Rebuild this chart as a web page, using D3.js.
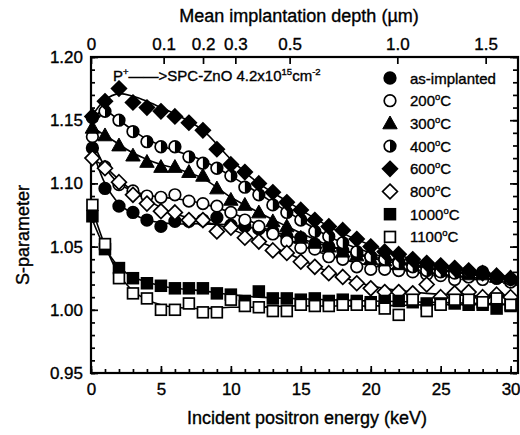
<!DOCTYPE html>
<html>
<head>
<meta charset="utf-8">
<script src="https://cdn.jsdelivr.net/npm/d3@7"></script>
<style>
  body { margin: 0; background: #fff; }
  svg { display: block; font-family: "Liberation Sans", Arial, Helvetica, sans-serif; }
  svg text { stroke: #000; stroke-width: 0.35px; fill: #000; }
</style>
</head>
<body>
<svg id="chart" width="520" height="435"></svg>
<script>
// incident positron energy (keV) of every measured point
const energy = [0.1, 1, 2, 3, 4, 5, 6, 7, 8, 9, 10, 11, 12, 13, 14, 15,
  16, 17, 18, 19, 20, 21, 22, 23, 24, 25, 26, 27, 28, 29, 30];

// measured S-parameter, one array per anneal state
const sAsImplanted = [1.128, 1.096, 1.082, 1.077, 1.071, 1.066, 1.070, 1.070, 1.071, 1.073, 1.067,
  1.066, 1.064, 1.062, 1.058, 1.057, 1.052, 1.050, 1.047, 1.044, 1.042,
  1.040, 1.038, 1.036, 1.034, 1.031, 1.030, 1.029, 1.027, 1.025, 1.023];
const s200 = [1.137, 1.113, 1.099, 1.094, 1.090, 1.089, 1.091, 1.086, 1.084, 1.082, 1.077,
  1.071, 1.066, 1.060, 1.054, 1.049, 1.048, 1.042, 1.040, 1.034, 1.032,
  1.032, 1.031, 1.030, 1.028, 1.027, 1.024, 1.026, 1.024, 1.025, 1.022];
const s300 = [1.144, 1.138, 1.130, 1.122, 1.117, 1.113, 1.113, 1.109, 1.106, 1.096, 1.087,
  1.083, 1.077, 1.070, 1.066, 1.057, 1.053, 1.050, 1.046, 1.043, 1.040,
  1.039, 1.036, 1.035, 1.033, 1.031, 1.030, 1.028, 1.028, 1.026, 1.025];
const s400 = [1.152, 1.157, 1.150, 1.141, 1.133, 1.129, 1.129, 1.121, 1.116, 1.112, 1.106,
  1.097, 1.091, 1.083, 1.077, 1.071, 1.062, 1.058, 1.053, 1.046, 1.042,
  1.040, 1.037, 1.034, 1.031, 1.030, 1.029, 1.030, 1.030, 1.026, 1.024];
const s600 = [1.153, 1.165, 1.175, 1.164, 1.160, 1.157, 1.153, 1.148, 1.142, 1.127, 1.115,
  1.109, 1.100, 1.093, 1.085, 1.079, 1.071, 1.066, 1.063, 1.056, 1.050,
  1.046, 1.044, 1.040, 1.037, 1.035, 1.033, 1.031, 1.029, 1.027, 1.025];
const s800 = [1.120, 1.112, 1.101, 1.091, 1.084, 1.078, 1.077, 1.071, 1.071, 1.062, 1.065,
  1.057, 1.054, 1.047, 1.045, 1.038, 1.034, 1.029, 1.026, 1.021, 1.017,
  1.014, 1.014, 1.013, 1.020, 1.010, 1.013, 1.014, 1.010, 1.012, 1.010];
const s1000 = [1.074, 1.048, 1.033, 1.025, 1.021, 1.019, 1.017, 1.017, 1.017, 1.013, 1.012,
  1.007, 1.0145, 1.009, 1.009, 1.008, 1.009, 1.007, 1.008, 1.007, 1.006,
  1.007, 1.007, 1.006, 1.005, 1.005, 1.005, 1.004, 1.004, 1.001, 1.003];
const s1100 = [1.083, 1.052, 1.025, 1.013, 1.009, 1.000, 1.000, 1.005, 0.998, 0.998, 1.008,
  1.003, 1.002, 0.999, 0.999, 1.004, 1.003, 1.003, 1.004, 1.004, 1.004,
  1.001, 0.996, 1.008, 0.999, 1.004, 1.008, 1.008, 1.006, 1.009, 1.004];

// fitted curves
const fitEnergy = [0, 1, 2, 3, 4, 5, 6, 8, 10, 12, 14, 17, 20, 24, 28, 30.6];
const fitAsImplanted = [1.130, 1.100, 1.084, 1.076, 1.071, 1.069, 1.068, 1.068, 1.067, 1.064, 1.059, 1.050, 1.042, 1.034, 1.027, 1.024];
const fit200 = [1.137, 1.113, 1.100, 1.094, 1.091, 1.089, 1.088, 1.084, 1.077, 1.067, 1.056, 1.043, 1.035, 1.029, 1.025, 1.023];
const fit300 = [1.145, 1.138, 1.131, 1.124, 1.119, 1.115, 1.112, 1.104, 1.089, 1.077, 1.066, 1.051, 1.041, 1.033, 1.027, 1.025];
const fit400 = [1.152, 1.157, 1.150, 1.142, 1.135, 1.130, 1.126, 1.118, 1.106, 1.092, 1.078, 1.058, 1.045, 1.033, 1.027, 1.024];
const fit600 = [1.152, 1.166, 1.171, 1.169, 1.165, 1.160, 1.155, 1.142, 1.119, 1.100, 1.086, 1.066, 1.051, 1.037, 1.029, 1.025];
const fit800 = [1.120, 1.113, 1.103, 1.094, 1.087, 1.081, 1.076, 1.070, 1.064, 1.054, 1.045, 1.030, 1.019, 1.013, 1.011, 1.010];
const fit1000 = [1.074, 1.049, 1.034, 1.026, 1.022, 1.019, 1.017, 1.015, 1.012, 1.010, 1.009, 1.008, 1.007, 1.006, 1.005, 1.004];
const fit1100 = [1.083, 1.051, 1.028, 1.015, 1.008, 1.004, 1.002, 1.001, 1.002, 1.002, 1.003, 1.003, 1.003, 1.004, 1.004, 1.004];

const seriesLabels = ['as-implanted', '200', '300', '400', '600', '800', '1000', '1100'];
const seriesSymbols = ['circleFilled', 'circleOpen', 'triangle', 'circleHalf', 'diamondFilled', 'diamondOpen', 'squareFilled', 'squareOpen'];

const yTicks = [0.95, 1.00, 1.05, 1.10, 1.15, 1.20];
const xTicks = [0, 5, 10, 15, 20, 25, 30];
const depthTicks = [0, 0.1, 0.2, 0.3, 0.5, 1.0, 1.5];
const depthLabels = ['0', '0.1', '0.2', '0.3', '0.5', '1.0', '1.5'];

const width = 520;
const height = 435;
const margin = { top: 57, right: 1, bottom: 62, left: 91 };
const xMax = 30.6;
// mean depth z (um) = (E / k)^(1/0.625)
const depthK = 21.9;
const depthExp = 0.625;

const values = [sAsImplanted, s200, s300, s400, s600, s800, s1000, s1100];
const fits = [fitAsImplanted, fit200, fit300, fit400, fit600, fit800, fit1000, fit1100];
const series = seriesLabels.map((label, i) => ({
  label,
  symbol: seriesSymbols[i],
  points: energy.map((e, j) => ({ x: e, y: values[i][j] })),
  fit: fitEnergy.map((e, j) => ({ x: e, y: fits[i][j] })),
}));

const svg = d3.select('#chart');

const x = d3.scaleLinear().domain([0, xMax]).range([margin.left, width - margin.right]);
const y = d3.scaleLinear().domain([0.95, 1.20]).range([height - margin.bottom, margin.top]);
const zMax = Math.pow(xMax / depthK, 1 / depthExp);
const depth = d3.scalePow().exponent(depthExp).domain([0, zMax]).range(x.range());

const x0 = margin.left, x1 = width - margin.right;
const y0 = margin.top, y1 = height - margin.bottom;

function styleAxis(g, size) {
  g.select('.domain').remove();
  g.selectAll('.tick line').attr('stroke', '#000').attr('stroke-width', 1.7);
  g.selectAll('.tick text').style('font-size', size + 'px');
}

const minorY = d3.range(95, 121, 1).map(d => d / 100);

// minor ticks
svg.append('g')
  .attr('transform', `translate(0,${y1})`)
  .call(d3.axisBottom(x).tickValues(d3.range(0, 31, 1)).tickSize(-4).tickFormat(''))
  .call(g => styleAxis(g, 17));
svg.append('g')
  .attr('transform', `translate(${x0},0)`)
  .call(d3.axisLeft(y).tickValues(minorY).tickSize(-4).tickFormat(''))
  .call(g => styleAxis(g, 17));
svg.append('g')
  .attr('transform', `translate(${x1 - 2},0)`)
  .call(d3.axisRight(y).tickValues(minorY).tickSize(-4).tickFormat(''))
  .call(g => styleAxis(g, 17));

// major ticks
svg.append('g')
  .attr('transform', `translate(0,${y1})`)
  .call(d3.axisBottom(x).tickValues(xTicks).tickSize(-7).tickPadding(10).tickFormat(d3.format('d')))
  .call(g => styleAxis(g, 17));
svg.append('g')
  .attr('transform', `translate(${x0},0)`)
  .call(d3.axisLeft(y).tickValues(yTicks).tickSize(-7).tickPadding(8).tickFormat(d3.format('.2f')))
  .call(g => styleAxis(g, 17));
svg.append('g')
  .attr('transform', `translate(${x1 - 2},0)`)
  .call(d3.axisRight(y).tickValues(yTicks).tickSize(-7).tickFormat(''))
  .call(g => styleAxis(g, 17));
svg.append('g')
  .attr('transform', `translate(0,${y0})`)
  .call(d3.axisTop(depth).tickValues(depthTicks).tickSize(-7).tickPadding(7)
    .tickFormat((d, i) => depthLabels[i]))
  .call(g => styleAxis(g, 17));

// frame
svg.append('rect')
  .attr('x', x0).attr('y', y0)
  .attr('width', x1 - x0 - 1).attr('height', y1 - y0)
  .attr('fill', 'none').attr('stroke', '#000').attr('stroke-width', 2.2);

// axis titles
svg.append('text')
  .attr('x', 307).attr('y', 424)
  .attr('text-anchor', 'middle').style('font-size', '18px')
  .text('Incident positron energy (keV)');
svg.append('text')
  .attr('x', 299).attr('y', 22)
  .attr('text-anchor', 'middle').style('font-size', '18px')
  .text('Mean implantation depth (\u00b5m)');
svg.append('text')
  .attr('transform', 'translate(29,235) rotate(-90)')
  .attr('text-anchor', 'middle').style('font-size', '18px')
  .text('S-parameter');

// fitted lines
const line = d3.line()
  .x(d => x(d.x))
  .y(d => y(d.y))
  .curve(d3.curveCatmullRom.alpha(0.5));

svg.append('g')
  .selectAll('path')
  .data(series)
  .join('path')
  .attr('d', d => line(d.fit))
  .attr('fill', 'none')
  .attr('stroke', '#000')
  .attr('stroke-width', 1.6);

function drawMarker(g, type) {
  const sw = 1.7;
  const r = 5.8;
  if (type === 'circleFilled' || type === 'circleOpen' || type === 'circleHalf') {
    g.append('circle').attr('r', r)
      .attr('fill', type === 'circleFilled' ? '#000' : '#fff')
      .attr('stroke', '#000').attr('stroke-width', sw);
    if (type === 'circleHalf') {
      g.append('path').attr('d', `M0,-${r}A${r},${r} 0 0 1 0,${r}Z`).attr('fill', '#000');
    }
  } else if (type === 'triangle') {
    g.append('path').attr('d', 'M0,-7.4L7.2,5.4L-7.2,5.4Z')
      .attr('fill', '#000').attr('stroke', '#000').attr('stroke-width', 1);
  } else if (type === 'diamondFilled' || type === 'diamondOpen') {
    g.append('path').attr('d', 'M0,-7.4L7.4,0L0,7.4L-7.4,0Z')
      .attr('fill', type === 'diamondFilled' ? '#000' : '#fff')
      .attr('stroke', '#000').attr('stroke-width', sw);
  } else {
    g.append('rect').attr('x', -5.4).attr('y', -5.4).attr('width', 10.8).attr('height', 10.8)
      .attr('fill', type === 'squareFilled' ? '#000' : '#fff')
      .attr('stroke', '#000').attr('stroke-width', sw);
  }
}

// data points
series.forEach(s => {
  const g = svg.append('g');
  s.points.forEach(p => {
    const m = g.append('g').attr('transform', `translate(${x(p.x)},${y(p.y)})`);
    drawMarker(m, s.symbol);
  });
});

// sample annotation
const note = svg.append('text')
  .attr('x', 113).attr('y', 81)
  .style('font-size', '15px');
note.append('tspan').text('P');
note.append('tspan').attr('dy', -6).style('font-size', '9.5px').text('+');
note.append('tspan').attr('dy', 6).text('\u2014\u2014>SPC-ZnO 4.2x10');
note.append('tspan').attr('dy', -6).style('font-size', '9.5px').text('15');
note.append('tspan').attr('dy', 6).text('cm');
note.append('tspan').attr('dy', -6).style('font-size', '9.5px').text('-2');

// legend
const legend = svg.append('g');
series.forEach((s, i) => {
  const row = legend.append('g').attr('transform', `translate(390,${78 + i * 22.7})`);
  drawMarker(row, s.symbol);
  const t = row.append('text').attr('x', 20).attr('y', 5.5).style('font-size', '15px');
  if (i === 0) {
    t.text(s.label);
  } else {
    t.append('tspan').text(s.label);
    t.append('tspan').attr('dy', -6).style('font-size', '9.5px').text('o');
    t.append('tspan').attr('dy', 6).text('C');
  }
});
</script>
</body>
</html>
